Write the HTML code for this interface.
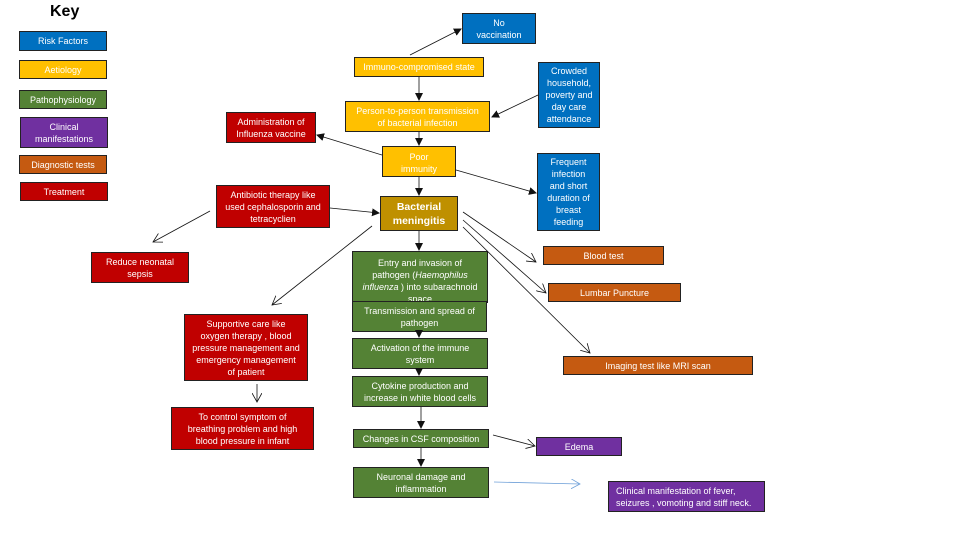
<!DOCTYPE html>
<html><head><meta charset="utf-8"><style>
body{margin:0;width:961px;height:540px;background:#fff;position:relative;overflow:hidden;font-family:"Liberation Sans",sans-serif}
.b{position:absolute;box-sizing:border-box;border:1px solid #222;display:flex;align-items:center;justify-content:center;text-align:center;color:#fff;font-size:9px;line-height:12px;padding:0 2px;white-space:nowrap}
.b>span{display:block}
.bl{background:#0070c0}.y{background:#ffc000}.g{background:#548235}.p{background:#7030a0}.o{background:#c55a11}.r{background:#c00000}
svg{position:absolute;left:0;top:0}
</style></head><body>
<div style="position:absolute;left:50px;top:3px;font-weight:bold;font-size:16px">Key</div>
<div class="b bl" style="left:19px;top:31px;width:88px;height:20px"><span>Risk Factors</span></div>
<div class="b y" style="left:19px;top:60px;width:88px;height:19px"><span>Aetiology</span></div>
<div class="b g" style="left:19px;top:90px;width:88px;height:19px"><span>Pathophysiology</span></div>
<div class="b p" style="left:20px;top:117px;width:88px;height:31px"><span>Clinical<br>manifestations</span></div>
<div class="b o" style="left:19px;top:155px;width:88px;height:19px"><span>Diagnostic tests</span></div>
<div class="b r" style="left:20px;top:182px;width:88px;height:19px"><span>Treatment</span></div>

<div class="b bl" style="left:462px;top:13px;width:74px;height:31px"><span>No<br>vaccination</span></div>
<div class="b y" style="left:354px;top:57px;width:130px;height:20px"><span>Immuno-compromised state</span></div>
<div class="b bl" style="left:538px;top:62px;width:62px;height:66px"><span>Crowded<br>household,<br>poverty and<br>day care<br>attendance</span></div>
<div class="b y" style="left:345px;top:101px;width:145px;height:31px"><span>Person-to-person transmission<br>of bacterial infection</span></div>
<div class="b r" style="left:226px;top:112px;width:90px;height:31px"><span>Administration of<br>Influenza vaccine</span></div>
<div class="b y" style="left:382px;top:146px;width:74px;height:31px;align-items:flex-start;padding-top:4px"><span>Poor<br>immunity</span></div>
<div class="b bl" style="left:537px;top:153px;width:63px;height:78px"><span>Frequent<br>infection<br>and short<br>duration of<br>breast<br>feeding</span></div>
<div class="b r" style="left:216px;top:185px;width:114px;height:43px;align-items:flex-start;padding-top:3px"><span>Antibiotic therapy like<br>used cephalosporin and<br>tetracyclien</span></div>
<div class="b" style="left:380px;top:196px;width:78px;height:35px;background:#bf9000;font-weight:bold;font-size:10.5px;line-height:14px"><span>Bacterial<br>meningitis</span></div>
<div class="b r" style="left:91px;top:252px;width:98px;height:31px"><span>Reduce neonatal<br>sepsis</span></div>
<div class="b g" style="left:352px;top:251px;width:136px;height:52px;align-items:flex-start;padding-top:5px"><span>Entry and invasion of<br>pathogen (<i>Haemophilus</i><br><i>influenza</i> ) into subarachnoid<br>space</span></div>
<div class="b o" style="left:543px;top:246px;width:121px;height:19px"><span>Blood test</span></div>
<div class="b o" style="left:548px;top:283px;width:133px;height:19px"><span>Lumbar Puncture</span></div>
<div class="b g" style="left:352px;top:301px;width:135px;height:31px"><span>Transmission and spread of<br>pathogen</span></div>
<div class="b r" style="left:184px;top:314px;width:124px;height:67px"><span>Supportive care like<br>oxygen therapy , blood<br>pressure management and<br>emergency management<br>of patient</span></div>
<div class="b g" style="left:352px;top:338px;width:136px;height:31px"><span>Activation of the immune<br>system</span></div>
<div class="b o" style="left:563px;top:356px;width:190px;height:19px"><span>Imaging test like MRI scan</span></div>
<div class="b g" style="left:352px;top:376px;width:136px;height:31px"><span>Cytokine production and<br>increase in white blood cells</span></div>
<div class="b r" style="left:171px;top:407px;width:143px;height:43px"><span>To control symptom of<br>breathing problem and high<br>blood pressure in infant</span></div>
<div class="b g" style="left:353px;top:429px;width:136px;height:19px"><span>Changes in CSF composition</span></div>
<div class="b p" style="left:536px;top:437px;width:86px;height:19px"><span>Edema</span></div>
<div class="b g" style="left:353px;top:467px;width:136px;height:31px;align-items:flex-start;padding-top:3px"><span>Neuronal damage and<br>inflammation</span></div>
<div class="b p" style="left:608px;top:481px;width:157px;height:31px;justify-content:flex-start;text-align:left;padding-left:7px"><span>Clinical manifestation of fever,<br>seizures , vomoting and stiff neck.</span></div>

<svg width="961" height="540">
<defs>
<marker id="a" markerWidth="8" markerHeight="8" refX="7" refY="4" orient="auto" markerUnits="userSpaceOnUse"><path d="M0,0 L8,4 L0,8 z" fill="#111"/></marker>
<marker id="o" markerWidth="10" markerHeight="10" refX="9" refY="5" orient="auto" markerUnits="userSpaceOnUse"><path d="M0,0 L9,5 L0,10" fill="none" stroke="#111" stroke-width="0.8"/></marker>
<marker id="ob" markerWidth="10" markerHeight="10" refX="9" refY="5" orient="auto" markerUnits="userSpaceOnUse"><path d="M0,0 L9,5 L0,10" fill="none" stroke="#6fa0d8" stroke-width="0.8"/></marker>
</defs>
<g stroke="#111" stroke-width="0.8" fill="none">
<line x1="410" y1="55" x2="461" y2="29" marker-end="url(#a)"/>
<line x1="419" y1="77" x2="419" y2="100" marker-end="url(#a)"/>
<line x1="538" y1="95" x2="492" y2="117" marker-end="url(#a)"/>
<line x1="419" y1="132" x2="419" y2="145" marker-end="url(#a)"/>
<line x1="382" y1="155" x2="317" y2="135" marker-end="url(#a)"/>
<line x1="456" y1="170" x2="536" y2="193" marker-end="url(#a)"/>
<line x1="330" y1="208" x2="379" y2="213" marker-end="url(#a)"/>
<line x1="419" y1="177" x2="419" y2="195" marker-end="url(#a)"/>
<line x1="210" y1="211" x2="153" y2="242" marker-end="url(#o)"/>
<line x1="372" y1="226" x2="272" y2="305" marker-end="url(#o)"/>
<line x1="419" y1="231" x2="419" y2="250" marker-end="url(#a)"/>
<line x1="463" y1="212" x2="536" y2="262" marker-end="url(#o)"/>
<line x1="463" y1="220" x2="546" y2="293" marker-end="url(#o)"/>
<line x1="463" y1="227" x2="590" y2="353" marker-end="url(#o)"/>
<line x1="419" y1="332" x2="419" y2="337" marker-end="url(#a)"/>
<line x1="419" y1="369" x2="419" y2="375" marker-end="url(#a)"/>
<line x1="421" y1="407" x2="421" y2="428" marker-end="url(#a)"/>
<line x1="421" y1="448" x2="421" y2="466" marker-end="url(#a)"/>
<line x1="493" y1="435" x2="535" y2="446" marker-end="url(#o)"/>
<line x1="257" y1="384" x2="257" y2="402" marker-end="url(#o)"/>
<line x1="494" y1="482" x2="580" y2="484" stroke="#6fa0d8" marker-end="url(#ob)"/>
</g>
</svg>
</body></html>
